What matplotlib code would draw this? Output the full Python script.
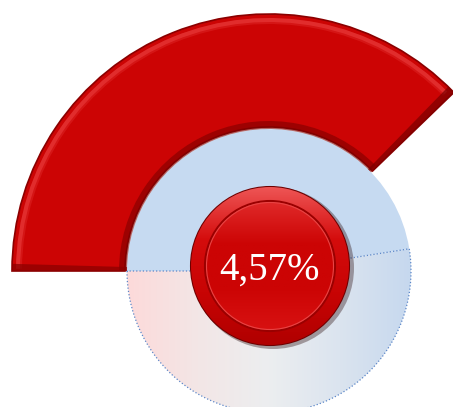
import matplotlib.pyplot as plt
import matplotlib.patches as mpatches
from matplotlib.colors import LinearSegmentedColormap
import numpy as np

# gauge data (degrees of the ring)
gauge_values = [136, 224]      # red part, hidden rest
gauge_start = 44
dial_values = [171, 189]       # upper blue part, lower gradient part
dial_start = 9
value_label = "4,57%"

fig = plt.figure(figsize=(4.53, 4.07), dpi=100)
ax = fig.add_axes([0, 0, 1, 1])

# inner dial
dial, _ = ax.pie(dial_values, radius=142, startangle=dial_start, counterclock=True,
                 colors=['#c6daf1', 'none'], center=(0, 0), frame=True,
                 wedgeprops=dict(linewidth=0))
low = dial[1]
grad_cmap = LinearSegmentedColormap.from_list('g', ['#fddada', '#f3e6e6', '#eceef0', '#dbe4ef', '#c6d8ee'])
gx = np.linspace(0, 1, 256).reshape(1, -1)
im = ax.imshow(gx, cmap=grad_cmap, extent=(-142, 142, -142, 30), aspect='auto', zorder=1)
im.set_clip_path(low)
edge = mpatches.Wedge((0, 0), 142, low.theta1, low.theta2, facecolor='none',
                      edgecolor='#5b86c8', linewidth=0.9, linestyle=':', zorder=2)
ax.add_patch(edge)

# red gauge ring
ring, _ = ax.pie(gauge_values, radius=257, startangle=gauge_start, counterclock=True,
                 colors=['#cc0404', 'none'], center=(0, 0), frame=True,
                 wedgeprops=dict(width=113, edgecolor='#8a0000', linewidth=1.2))
ring[0].set_zorder(3)
ring[1].set_edgecolor('none')
g0, g1 = gauge_start, gauge_start + gauge_values[0]
# soft highlight near the outer rim
for w, a in [(5, 0.25), (3, 0.45)]:
    ax.add_patch(mpatches.Wedge((0, 0), 253, g0 + 1.2, g1 - 0.5, width=w + 1,
                                facecolor='#f04a4a', alpha=a, edgecolor='none', zorder=4))
# darker inner rim and end caps
ax.add_patch(mpatches.Wedge((0, 0), 150, g0 + 0.8, g1, width=8,
                            facecolor='#7e0000', alpha=0.6, edgecolor='none', zorder=4))
ax.add_patch(mpatches.Wedge((0, 0), 257, g1 - 1.6, g1, width=115,
                            facecolor='#8c0000', alpha=0.75, edgecolor='none', zorder=4))
ax.add_patch(mpatches.Wedge((0, 0), 257, g0, g0 + 1.8, width=115,
                            facecolor='#7a0000', alpha=0.7, edgecolor='none', zorder=4))

# center button
bc = (1, 5)
ax.add_patch(mpatches.Circle((bc[0] + 3, bc[1] - 2), 81, facecolor='#200000', alpha=0.35, zorder=5))
outer_btn = mpatches.Circle(bc, 79, facecolor='#c80606', edgecolor='#6e0000', linewidth=1.5, zorder=6)
ax.add_patch(outer_btn)
btn_cmap = LinearSegmentedColormap.from_list('b', ['#b00000', '#c80404', '#d40c0c', '#ee5555'])
gy = np.linspace(0, 1, 256).reshape(-1, 1)
im2 = ax.imshow(gy, cmap=btn_cmap, extent=(bc[0] - 79, bc[0] + 79, bc[1] - 79, bc[1] + 79),
                origin='lower', aspect='auto', zorder=7)
im2.set_clip_path(outer_btn)
inner_btn = mpatches.Circle(bc, 65, facecolor='none', edgecolor='#9a0000', linewidth=1.5, zorder=8)
ax.add_patch(inner_btn)
in_cmap = LinearSegmentedColormap.from_list('c', ['#d81212', '#cc0404', '#cc0404', '#e02a2a'])
im3 = ax.imshow(gy, cmap=in_cmap, extent=(bc[0] - 65, bc[0] + 65, bc[1] - 65, bc[1] + 65),
                origin='lower', aspect='auto', zorder=7.5)
im3.set_clip_path(inner_btn)
ax.add_patch(mpatches.Circle(bc, 63.5, facecolor='none', edgecolor='#e84444', linewidth=0.8, zorder=8))

ax.text(bc[0], bc[1] - 4, value_label, color='white', fontsize=28, family='Liberation Serif',
        ha='center', va='center', zorder=9)

ax.set_xlim(-269, 184)
ax.set_ylim(-136, 271)
ax.set_aspect('equal')
ax.axis('off')
fig.savefig('out.png', dpi=100)
